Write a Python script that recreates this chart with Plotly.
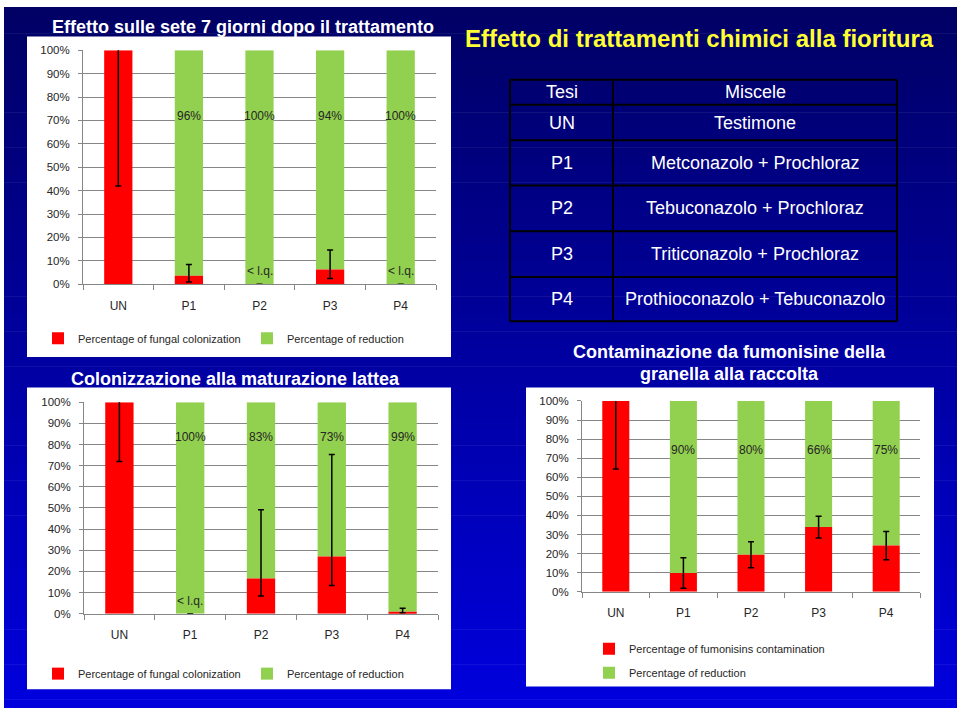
import plotly.graph_objects as go

W, H = 960, 716


def px(x):
    return x / W


def py(y):
    return 1 - y / H


# ---------------- data ----------------
categories = ["UN", "P1", "P2", "P3", "P4"]

# Chart 1: Effetto sulle sete 7 giorni dopo il trattamento
sete_colonization = [100, 3.6, 0, 6.3, 0]
sete_reduction = [0, 96.4, 100, 93.7, 100]
sete_err_plus = [58, 4.8, None, 8.3, None]
sete_err_minus = [58, 2.6, None, 3.8, None]
sete_labels = ["", "96%", "100%", "94%", "100%"]

# Chart 2: Colonizzazione alla maturazione lattea
lattea_colonization = [100, 0, 16.6, 27, 0.9]
lattea_reduction = [0, 100, 83.4, 73, 99.1]
lattea_err_plus = [28, None, 32.6, 48.3, 1.6]
lattea_err_minus = [28, None, 8.2, 13.7, 0.5]
lattea_labels = ["", "100%", "83%", "73%", "99%"]

# Chart 3: Contaminazione da fumonisine della granella alla raccolta
fumo_contamination = [100, 9.8, 19.4, 33.9, 24.2]
fumo_reduction = [0, 90.2, 80.6, 66.1, 75.8]
fumo_err = [35.6, 8, 6.8, 5.7, 7.4]
fumo_labels = ["", "90%", "80%", "66%", "75%"]

# Table
table_header = ["Tesi", "Miscele"]
table_codes = ["UN", "P1", "P2", "P3", "P4"]
table_mixtures = [
    "Testimone",
    "Metconazolo + Prochloraz",
    "Tebuconazolo + Prochloraz",
    "Triticonazolo + Prochloraz",
    "Prothioconazolo + Tebuconazolo",
]

y_ticks = list(range(0, 101, 10))
y_tick_text = [f"{v}%" for v in y_ticks]

# ---------------- styles ----------------
RED = "#FF0000"
GREEN = "#92D050"
AXIS = "#868686"
TXT = "#262626"
FONT = "Arial, Liberation Sans, sans-serif"

fig = go.Figure()

charts = [
    dict(sfx="", red=sete_colonization, green=sete_reduction, ep=sete_err_plus,
         em=sete_err_minus, labels=sete_labels,
         red_name="Percentage of fungal colonization", legend="legend", label_y=72),
    dict(sfx="2", red=lattea_colonization, green=lattea_reduction, ep=lattea_err_plus,
         em=lattea_err_minus, labels=lattea_labels,
         red_name="Percentage of fungal colonization", legend="legend2", label_y=83.5),
    dict(sfx="3", red=fumo_contamination, green=fumo_reduction, ep=fumo_err,
         em=fumo_err, labels=fumo_labels,
         red_name="Percentage of fumonisins contamination", legend="legend3", label_y=74.5),
]

annotations = []
for i, c in enumerate(charts):
    xa = "x" + c["sfx"]
    ya = "y" + c["sfx"]
    # green "reduction" part sits on top of the red part (drawn first so the
    # error bars of the red series stay visible above it)
    fig.add_trace(go.Bar(
        x=categories, y=c["green"], base=c["red"], name="Percentage of reduction",
        marker=dict(color=GREEN, line=dict(width=0)),
        xaxis=xa, yaxis=ya, legend=c["legend"], legendgroup=f"g{i}", legendrank=2,
    ))
    fig.add_trace(go.Bar(
        x=categories, y=c["red"], name=c["red_name"], marker=dict(color=RED, line=dict(width=0)),
        xaxis=xa, yaxis=ya, legend=c["legend"], legendgroup=f"r{i}", legendrank=1,
        error_y=dict(type="data", symmetric=False, array=c["ep"], arrayminus=c["em"],
                     color="black", thickness=1.5, width=3),
    ))
    for cat, lab, r in zip(categories, c["labels"], c["red"]):
        if lab:
            annotations.append(dict(x=cat, y=c["label_y"], xref=xa, yref=ya, text=lab,
                                    xanchor="center", yanchor="middle", showarrow=False,
                                    font=dict(family=FONT, size=12, color=TXT)))
        if r == 0:
            annotations.append(dict(x=cat, y=5.8, xref=xa, yref=ya, text="< l.q.",
                                    xanchor="center", yanchor="middle", showarrow=False,
                                    font=dict(family=FONT, size=12, color=TXT)))

# ---------------- background shapes ----------------
shapes = []
n_bands = 80
top_y, bot_y = 1, 714
for k in range(n_bands):
    y0 = top_y + (bot_y - top_y) * k / n_bands
    y1 = top_y + (bot_y - top_y) * (k + 1) / n_bands + 0.6
    t = (k + 0.5) / n_bands
    b = int(round(100 + (222 - 100) * t))
    shapes.append(dict(type="rect", xref="paper", yref="paper", x0=px(4), x1=px(957),
                       y0=py(min(y1, bot_y)), y1=py(y0), fillcolor=f"rgb(0,0,{b})",
                       line=dict(width=0), layer="below"))

# white panels
for (x0, y0, x1, y1) in [(27, 31, 451, 357), (27, 388, 451, 695), (526, 388, 934, 692)]:
    shapes.append(dict(type="rect", xref="paper", yref="paper", x0=px(x0), x1=px(x1),
                       y0=py(y1), y1=py(y0), fillcolor="white", line=dict(width=0), layer="below"))

# table grid
tbl_x = [510, 613, 897]
tbl_y = [75, 100.5, 136.5, 182.5, 229, 275.5, 320.5]
for yy in tbl_y:
    shapes.append(dict(type="line", xref="paper", yref="paper", x0=px(tbl_x[0]), x1=px(tbl_x[-1]),
                       y0=py(yy), y1=py(yy), line=dict(color="black", width=2)))
for xx in tbl_x:
    shapes.append(dict(type="line", xref="paper", yref="paper", x0=px(xx), x1=px(xx),
                       y0=py(tbl_y[0]), y1=py(tbl_y[-1]), line=dict(color="black", width=2)))

col_c = [(tbl_x[0] + tbl_x[1]) / 2, (tbl_x[1] + tbl_x[2]) / 2]
rows = [table_header] + [[a, b] for a, b in zip(table_codes, table_mixtures)]
for r, row in enumerate(rows):
    yc = (tbl_y[r] + tbl_y[r + 1]) / 2
    for cidx, txt in enumerate(row):
        annotations.append(dict(x=px(col_c[cidx]), y=py(yc), xref="paper", yref="paper",
                                text=txt, showarrow=False, xanchor="center", yanchor="middle",
                                font=dict(family=FONT, size=18, color="white")))

# titles
titles = [
    ("Effetto sulle sete 7 giorni dopo il trattamento", 242.5, 21, 18, "white"),
    ("Effetto di trattamenti chimici alla fioritura", 699, 33, 24, "#FFFF33"),
    ("Colonizzazione alla maturazione lattea", 235, 379, 18, "white"),
    ("Contaminazione da fumonisine della", 729.5, 352, 18, "white"),
    ("granella alla raccolta", 729.5, 374, 18, "white"),
]
for txt, xc, yc, sz, col in titles:
    annotations.append(dict(x=px(xc), y=py(yc), xref="paper", yref="paper",
                            text=f"<b>{txt}</b>", showarrow=False,
                            xanchor="center", yanchor="middle",
                            font=dict(family=FONT, size=sz, color=col)))


def xaxis(x0, x1, anchor):
    return dict(domain=[px(x0), px(x1)], anchor=anchor, type="category",
                showline=True, linecolor=AXIS, linewidth=1, ticks="outside",
                tickson="boundaries", ticklen=5, tickcolor=AXIS, showgrid=False,
                tickfont=dict(family=FONT, size=12, color=TXT), ticklabelstandoff=10,
                fixedrange=True)


def yaxis(y0, y1, anchor):
    return dict(domain=[py(y1), py(y0)], anchor=anchor, range=[0, 100],
                tickmode="array", tickvals=y_ticks, ticktext=y_tick_text,
                showgrid=True, gridcolor=AXIS, gridwidth=1,
                showline=True, linecolor=AXIS, linewidth=1, ticks="outside", ticklen=4,
                tickcolor=AXIS, zeroline=False,
                tickfont=dict(family=FONT, size=11.5, color=TXT), ticklabelstandoff=6,
                fixedrange=True)


legend_common = dict(font=dict(family=FONT, size=11, color=TXT), bgcolor="rgba(0,0,0,0)",
                     borderwidth=0, xanchor="left", yanchor="middle")

fig.update_layout(
    width=W, height=H, autosize=False,
    margin=dict(l=0, r=0, t=0, b=0),
    paper_bgcolor="white", plot_bgcolor="rgba(0,0,0,0)",
    barmode="overlay", bargap=0.6,
    font=dict(family=FONT),
    xaxis=xaxis(83, 436, "y"), yaxis=yaxis(45, 283, "x"),
    xaxis2=xaxis(84, 438, "y2"), yaxis2=yaxis(403, 618, "x2"),
    xaxis3=xaxis(582, 920, "y3"), yaxis3=yaxis(401.7, 595.7, "x3"),
    legend=dict(orientation="h", x=px(38), y=py(338), entrywidth=164,
                traceorder="normal", **legend_common),
    legend2=dict(orientation="h", x=px(38), y=py(679), entrywidth=164,
                 traceorder="normal", **legend_common),
    legend3=dict(orientation="v", x=px(589), y=py(666), traceorder="grouped",
                 tracegroupgap=5, **legend_common),
    shapes=shapes,
    annotations=annotations,
)

fig.write_html("out.html", config={"displayModeBar": False},
               post_script="document.body.style.margin='0';document.body.style.padding='0';")
